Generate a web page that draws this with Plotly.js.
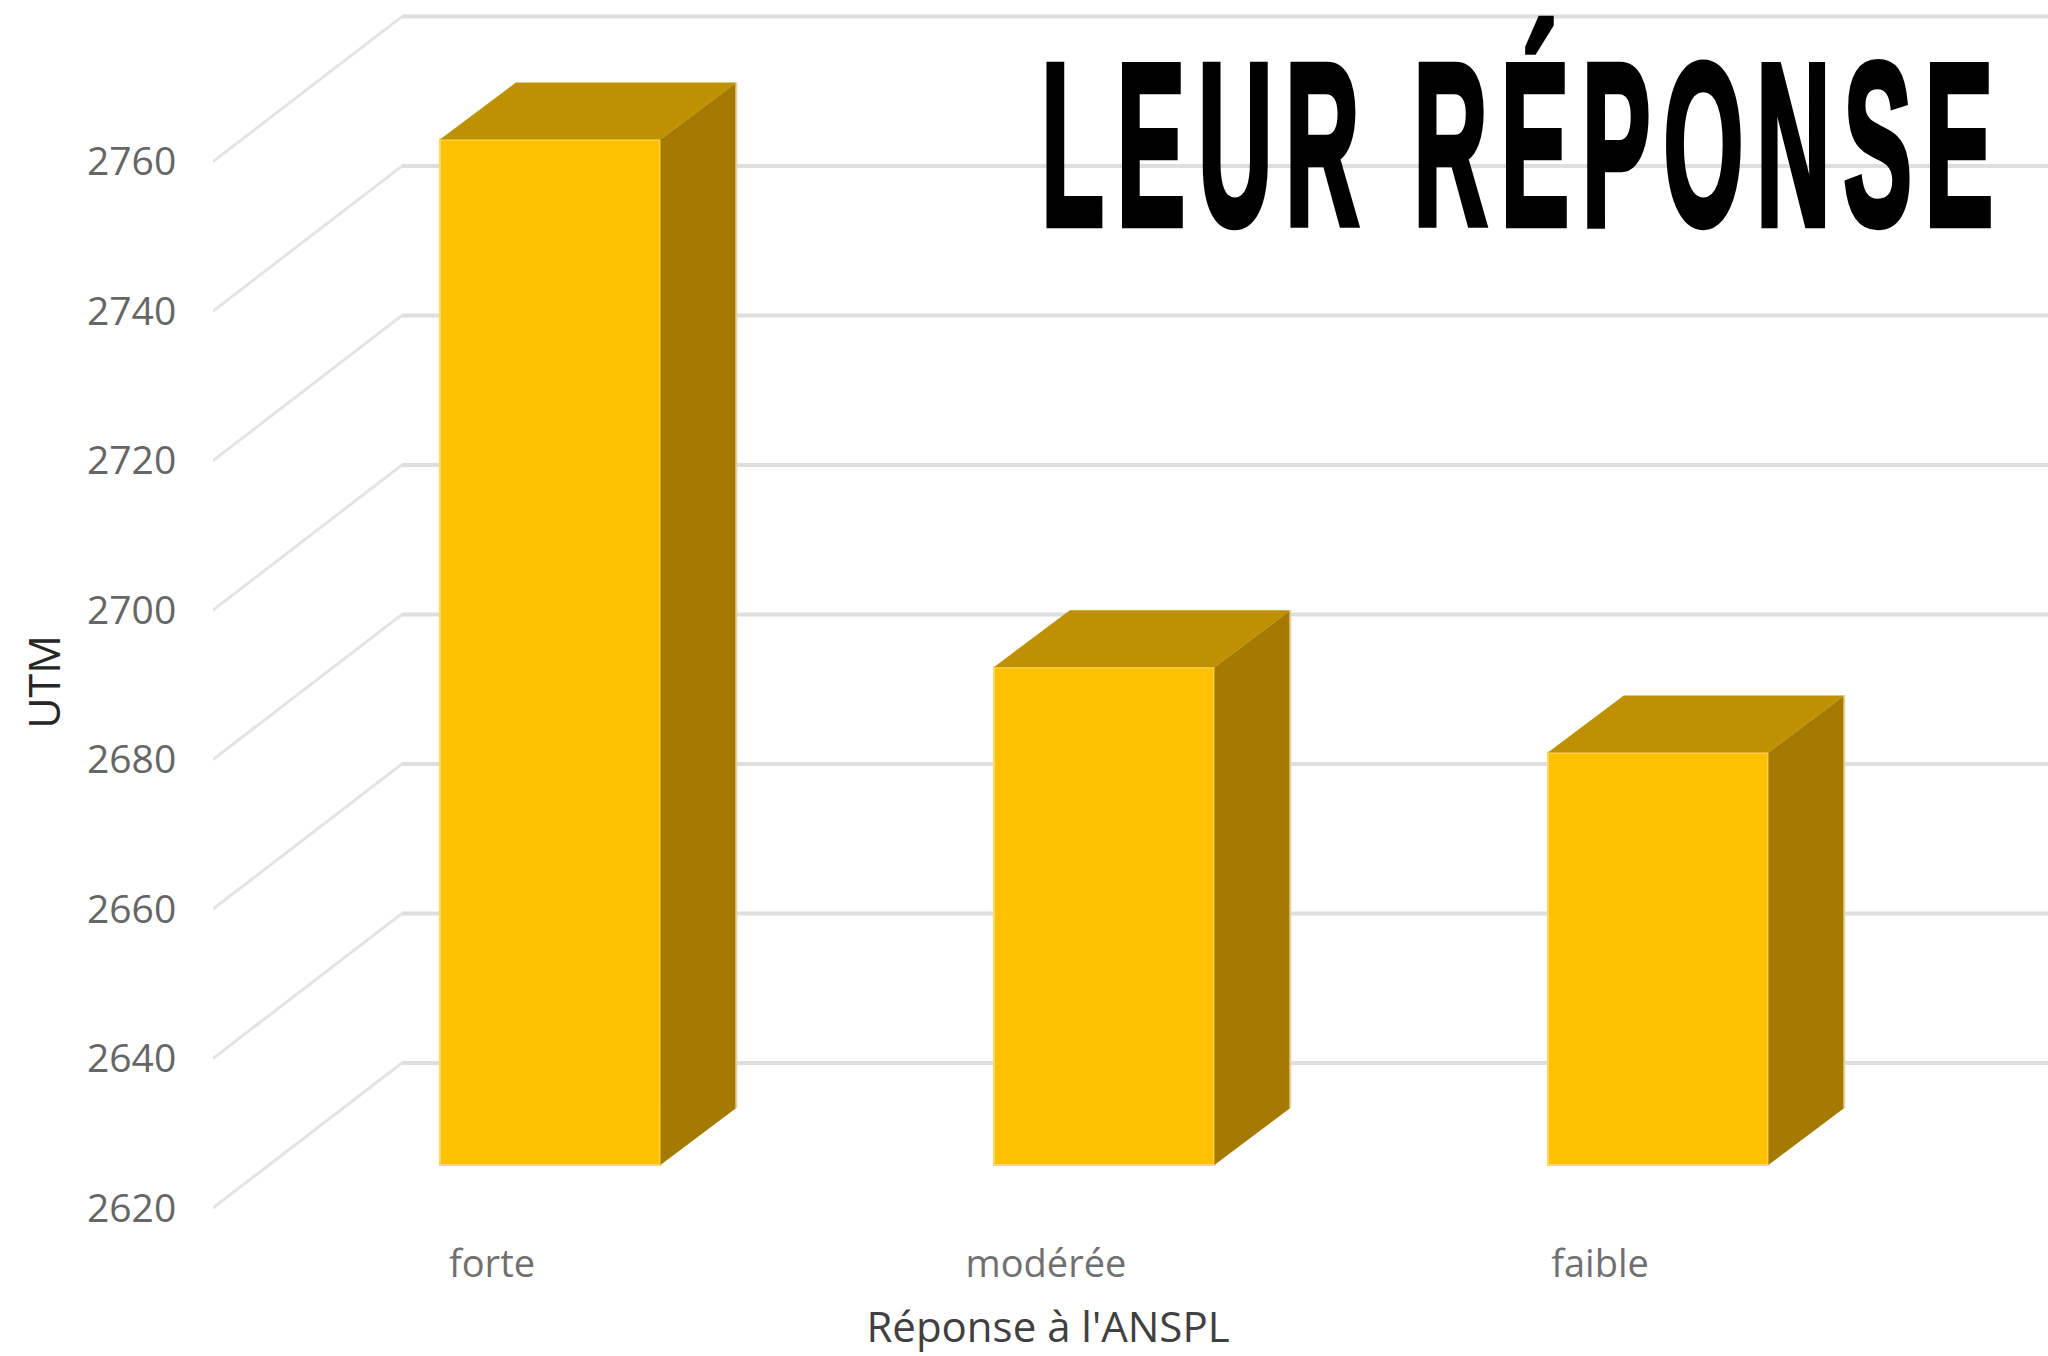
<!DOCTYPE html>
<html><head><meta charset="utf-8">
<script src="https://cdn.plot.ly/plotly-3.0.1.min.js"></script>
<style>html,body{margin:0;padding:0;background:#fff;overflow:hidden}#c{width:2048px;height:1356px}</style>
</head><body><div id="c"></div>
<script>
const categories = ['forte', 'modérée', 'faible'];
const categoryPositions = [0, 1, 2];
const utmValues = [2757.2, 2686.6, 2675.2];
const yTicks = [2620, 2640, 2660, 2680, 2700, 2720, 2740, 2760];
const xTitle = "Réponse à l'ANSPL";
const yTitle = 'UTM';
const overlayTitle = 'LEUR RÉPONSE';

// pseudo-3D projection, in data units
const wallDx = 0.341, wallDy = 19.4;
const barLift = 5.75, barDx = 0.137, barDy = 7.63;
const barOffset = -0.094, barWidth = 0.398;
const floorValue = 2620;
const xRange = [-0.5036, 2.8087], yRange = [2618.39, 2781.62];

const traces = [{
  type: 'bar', x: categoryPositions, y: utmValues.map(v => v - floorValue),
  base: floorValue + barLift, offset: barOffset, width: barWidth,
  marker: {color: '#FFC000', line: {color: '#FFD966', width: 2}},
  hoverinfo: 'skip', showlegend: false
}];
utmValues.forEach((v, i) => {
  const xl = categoryPositions[i] + barOffset, xr = xl + barWidth;
  const top = v + barLift, bot = floorValue + barLift;
  traces.push({type: 'scatter', mode: 'lines', fill: 'toself', fillcolor: '#BF9000',
    x: [xl, xr, xr + barDx, xl + barDx, xl], y: [top, top, top + barDy, top + barDy, top],
    line: {width: 0, color: '#BF9000'}, hoverinfo: 'skip', showlegend: false});
  traces.push({type: 'scatter', mode: 'lines', fill: 'toself', fillcolor: '#A47A00',
    x: [xr, xr + barDx, xr + barDx, xr, xr], y: [bot, bot + barDy, top + barDy, top, bot],
    line: {width: 0, color: '#A47A00'}, hoverinfo: 'skip', showlegend: false});
  traces.push({type: 'scatter', mode: 'lines',
    x: [xr + barDx, xr + barDx], y: [bot + barDy, top + barDy],
    line: {width: 2, color: '#E3D29C'}, hoverinfo: 'skip', showlegend: false});
});

const shapes = [];
yTicks.forEach(v => {
  shapes.push({type: 'line', layer: 'below', xref: 'x', yref: 'y',
    x0: xRange[0], x1: xRange[0] + wallDx, y0: v, y1: v + wallDy,
    line: {color: '#E4E4E4', width: 3}});
  shapes.push({type: 'line', layer: 'below', xref: 'x', yref: 'y',
    x0: xRange[0] + wallDx, x1: xRange[1], y0: v + wallDy, y1: v + wallDy,
    line: {color: '#DEDEDE', width: 4}});
});

const layout = {
  width: 2048, height: 1356, paper_bgcolor: '#fff', plot_bgcolor: '#fff',
  margin: {l: 213, r: 0, t: 0, b: 136}, showlegend: false, bargap: 0,
  font: {family: '"Open Sans", sans-serif'},
  xaxis: {range: xRange, tickvals: categoryPositions, ticktext: categories,
    showgrid: false, zeroline: false, showline: false,
    ticks: 'outside', ticklen: 10, tickcolor: 'rgba(0,0,0,0)',
    tickfont: {size: 38, color: '#707070', family: '"Open Sans", sans-serif'},
    title: {text: xTitle, standoff: 30, font: {size: 42, color: '#404040'}}},
  yaxis: {range: yRange, tickvals: yTicks, showgrid: false, zeroline: false, showline: false,
    ticks: 'outside', ticklen: 28, tickcolor: 'rgba(0,0,0,0)',
    tickfont: {size: 39, color: '#666666', family: '"Open Sans", sans-serif'},
    title: {text: yTitle, standoff: 26, font: {size: 43, color: '#262626'}}},
  shapes: shapes,
  annotations: [{xref: 'paper', yref: 'paper', x: 0.5, y: 0.9, xanchor: 'left', yanchor: 'middle',
    text: overlayTitle, showarrow: false, align: 'left',
    font: {family: '"Liberation Sans Narrow", "Liberation Sans", sans-serif', size: 232, color: '#000', weight: 700}}]
};

function centreTitle(sel, cx, cy) {
  const el = document.querySelector(sel);
  if (!el) return;
  const r = el.getBoundingClientRect();
  const prev = el.getAttribute('transform') || '';
  el.setAttribute('transform', 'translate(' + (cx - (r.left + r.right) / 2) + ',' + (cy - (r.top + r.bottom) / 2) + ') ' + prev);
}

Plotly.newPlot('c', traces, layout, {displayModeBar: false, staticPlot: true}).then(() => {
  centreTitle('.xtitle', 1048, 1326);
  centreTitle('.ytitle', 43, 682);
  const t = document.querySelector('.annotation-text');
  if (!t) return;
  const bg = document.querySelector('.annotation rect');
  if (bg) bg.setAttribute('width', 0);
  t.style.letterSpacing = '28px';
  t.setAttribute('text-anchor', 'start');
  t.setAttribute('x', 0); t.setAttribute('y', 0);
  t.style.stroke = '#000'; t.style.strokeWidth = '5px';
  t.style.vectorEffect = 'non-scaling-stroke';
  const sx = 965 / t.getComputedTextLength();
  t.setAttribute('transform', 'scale(' + sx + ',1)');
  const m = t.getScreenCTM();
  t.setAttribute('transform', 'translate(' + (1041 - m.e) + ',' + (225 - m.f) + ') scale(' + sx + ',1)');
});
</script></body></html>
